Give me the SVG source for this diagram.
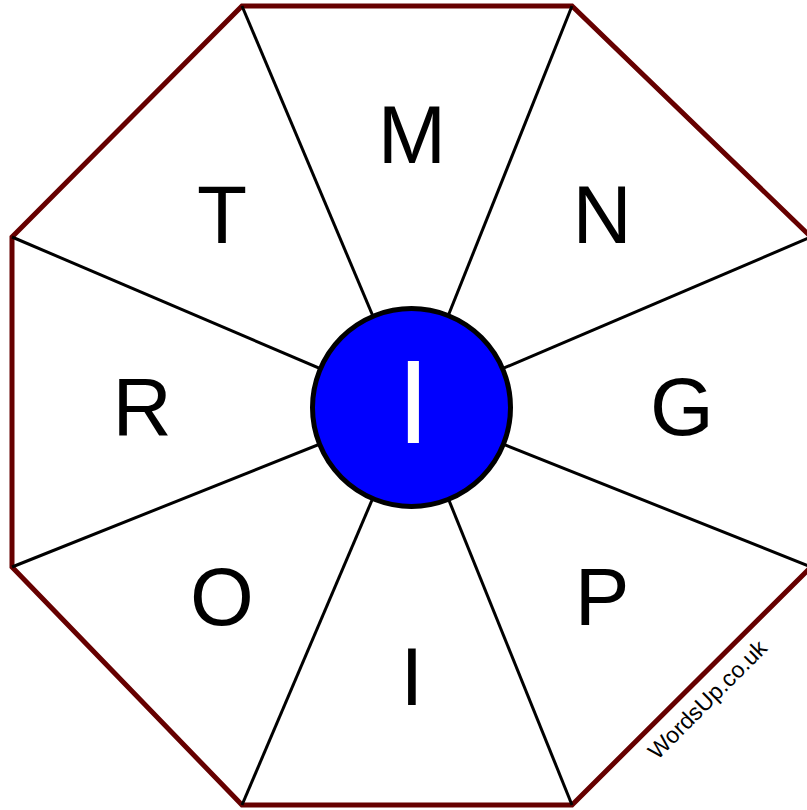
<svg xmlns="http://www.w3.org/2000/svg" width="807" height="810" viewBox="0 0 807 810">
<style>
.lt{font-family:"Liberation Sans",Arial,sans-serif;font-size:82px;fill:#000;text-anchor:middle}
.sp{stroke:#000;stroke-width:3;fill:none}
</style>
<rect width="807" height="810" fill="#fff"/>
<g id="octagon">
<polygon points="242,6 572,6 811,237 811,567 572,805 242,805 12,567 12,237" fill="#fff" stroke="#660000" stroke-width="5" stroke-linejoin="miter"/>
</g>
<g id="connectors" class="sp">
<line x1="411.5" y1="407.5" x2="242" y2="6"/>
<line x1="411.5" y1="407.5" x2="572" y2="6"/>
<line x1="411.5" y1="407.5" x2="811" y2="237"/>
<line x1="411.5" y1="407.5" x2="811" y2="567"/>
<line x1="411.5" y1="407.5" x2="572" y2="805"/>
<line x1="411.5" y1="407.5" x2="242" y2="805"/>
<line x1="411.5" y1="407.5" x2="12" y2="567"/>
<line x1="411.5" y1="407.5" x2="12" y2="237"/>
</g>
<g id="seg-M"><text class="lt" x="412" y="163">M</text></g>
<g id="seg-N"><text class="lt" x="602" y="243">N</text></g>
<g id="seg-G"><text class="lt" x="682" y="435">G</text></g>
<g id="seg-P"><text class="lt" x="602" y="625">P</text></g>
<g id="seg-I"><text class="lt" x="412" y="705">I</text></g>
<g id="seg-O"><text class="lt" x="222" y="625">O</text></g>
<g id="seg-R"><text class="lt" x="142" y="435">R</text></g>
<g id="seg-T"><text class="lt" x="222" y="243">T</text></g>
<g id="center">
<circle cx="411.5" cy="407.5" r="99" fill="#0000ff" stroke="#000" stroke-width="5"/>
<text x="413.5" y="443" font-family="Liberation Sans, Arial, sans-serif" font-size="118" fill="#fff" text-anchor="middle">I</text>
</g>
<g id="credit">
<text x="713" y="705" transform="rotate(-45 713 705)" font-family="Liberation Sans, Arial, sans-serif" font-size="23" fill="#000" text-anchor="middle">WordsUp.co.uk</text>
</g>
</svg>
